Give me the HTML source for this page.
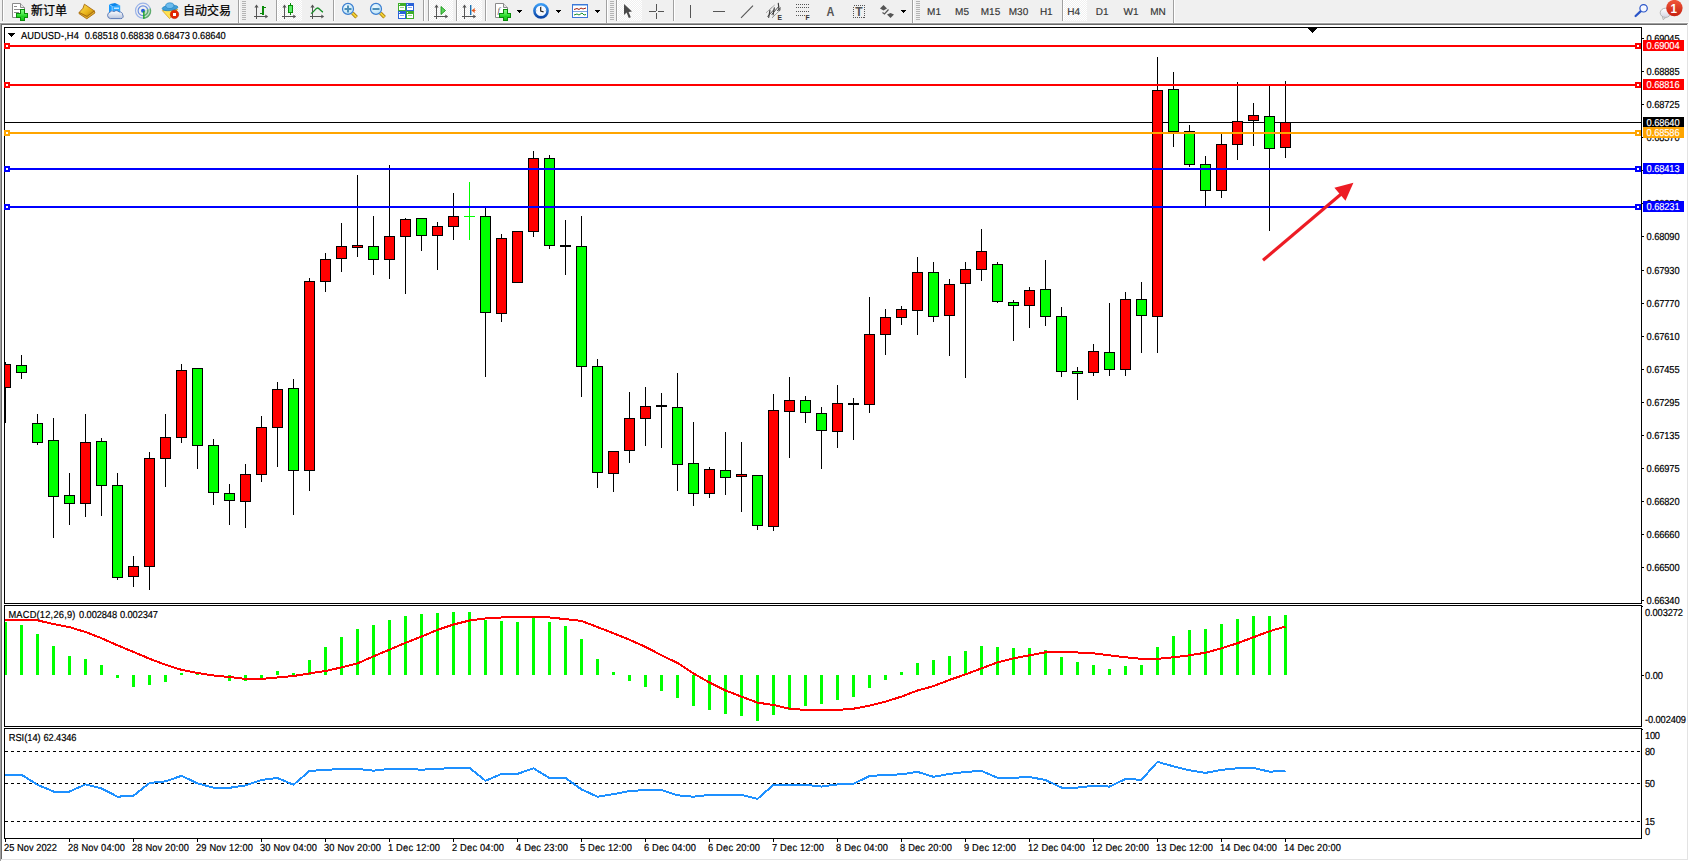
<!DOCTYPE html>
<html><head><meta charset="utf-8"><title>AUDUSD-,H4</title>
<style>html,body{margin:0;padding:0;background:#fff;overflow:hidden}svg{display:block}text{white-space:pre}</style>
</head><body>
<svg width="1689" height="861" viewBox="0 0 1689 861">
<rect x="0" y="0" width="1689" height="861" fill="#fff"/>
<rect x="0" y="0" width="1689" height="22" fill="#f0f0f0"/>
<rect x="0" y="22" width="1689" height="1" fill="#fbfbfb"/>
<rect x="0" y="23" width="1688" height="1" fill="#a0a0a0"/>
<rect x="0" y="24" width="1687" height="1" fill="#696969"/>
<rect x="0" y="24" width="1" height="837" fill="#a0a0a0"/>
<rect x="1" y="25" width="1" height="835" fill="#696969"/>
<rect x="1687" y="24" width="1" height="836" fill="#e3e3e3"/>
<rect x="1" y="859" width="1687" height="1" fill="#e3e3e3"/>
<defs><pattern id="chk" width="2" height="2" patternUnits="userSpaceOnUse"><rect width="2" height="2" fill="#f0f0f0"/><rect width="1" height="1" fill="#fff"/><rect x="1" y="1" width="1" height="1" fill="#fff"/></pattern><linearGradient id="gplus" x1="0" y1="0" x2="0" y2="1"><stop offset="0" stop-color="#7dff7d"/><stop offset="1" stop-color="#0ec20e"/></linearGradient><linearGradient id="gplus2" x1="0" y1="0" x2="0" y2="1"><stop offset="0" stop-color="#4ff04f"/><stop offset="1" stop-color="#22d022"/></linearGradient><linearGradient id="gcloud" x1="0" y1="0" x2="0" y2="1"><stop offset="0" stop-color="#ffffff"/><stop offset="1" stop-color="#b8c4dc"/></linearGradient><linearGradient id="gclk" x1="0" y1="0" x2="0" y2="1"><stop offset="0" stop-color="#3b9cf5"/><stop offset="1" stop-color="#0b47a8"/></linearGradient><linearGradient id="gchat" x1="0" y1="0" x2="0" y2="1"><stop offset="0" stop-color="#ffffff"/><stop offset="1" stop-color="#d4d4e2"/></linearGradient><linearGradient id="ggold" x1="0" y1="0" x2="1" y2="1"><stop offset="0" stop-color="#ffe45c"/><stop offset="0.6" stop-color="#e8b21a"/><stop offset="1" stop-color="#a8740a"/></linearGradient><linearGradient id="gblue" x1="0" y1="0" x2="0" y2="1"><stop offset="0" stop-color="#5db8ff"/><stop offset="1" stop-color="#1565d8"/></linearGradient><linearGradient id="gred" x1="0" y1="0" x2="0" y2="1"><stop offset="0" stop-color="#f0573a"/><stop offset="1" stop-color="#c62010"/></linearGradient><linearGradient id="ggrn" x1="0" y1="0" x2="1" y2="0"><stop offset="0" stop-color="#19c230"/><stop offset="0.5" stop-color="#8dff9a"/><stop offset="1" stop-color="#19c230"/></linearGradient><radialGradient id="glens" cx="0.4" cy="0.35" r="0.7"><stop offset="0" stop-color="#eefaff"/><stop offset="1" stop-color="#b8e0f6"/></radialGradient></defs>
<g id="toolbar">
<g shape-rendering="crispEdges">
<rect x="277" y="0" width="25" height="21" fill="url(#chk)"/>
<rect x="429" y="0" width="24" height="21" fill="url(#chk)"/>
<rect x="457" y="0" width="25" height="21" fill="url(#chk)"/>
<rect x="617" y="0" width="25" height="21" fill="url(#chk)"/>
<rect x="1063" y="0" width="24" height="21" fill="url(#chk)"/>
<rect x="2" y="0" width="1" height="21" fill="#a0a0a0"/>
<rect x="3" y="0" width="1" height="21" fill="#fff"/>
<rect x="276" y="0" width="1" height="21" fill="#a0a0a0"/>
<rect x="277" y="0" width="1" height="21" fill="#fff"/>
<rect x="333" y="0" width="1" height="21" fill="#a0a0a0"/>
<rect x="334" y="0" width="1" height="21" fill="#fff"/>
<rect x="423" y="0" width="1" height="21" fill="#a0a0a0"/>
<rect x="424" y="0" width="1" height="21" fill="#fff"/>
<rect x="428" y="0" width="1" height="21" fill="#a0a0a0"/>
<rect x="429" y="0" width="1" height="21" fill="#fff"/>
<rect x="456" y="0" width="1" height="21" fill="#a0a0a0"/>
<rect x="457" y="0" width="1" height="21" fill="#fff"/>
<rect x="485" y="0" width="1" height="21" fill="#a0a0a0"/>
<rect x="486" y="0" width="1" height="21" fill="#fff"/>
<rect x="616" y="0" width="1" height="21" fill="#a0a0a0"/>
<rect x="617" y="0" width="1" height="21" fill="#fff"/>
<rect x="673" y="0" width="1" height="21" fill="#a0a0a0"/>
<rect x="674" y="0" width="1" height="21" fill="#fff"/>
<rect x="1062" y="0" width="1" height="21" fill="#a0a0a0"/>
<rect x="1063" y="0" width="1" height="21" fill="#fff"/>
<rect x="238" y="0" width="1" height="23" fill="#a0a0a0"/>
<rect x="239" y="0" width="1" height="23" fill="#fff"/>
<rect x="606" y="0" width="1" height="23" fill="#a0a0a0"/>
<rect x="607" y="0" width="1" height="23" fill="#fff"/>
<rect x="912" y="0" width="1" height="23" fill="#a0a0a0"/>
<rect x="913" y="0" width="1" height="23" fill="#fff"/>
<rect x="1173" y="0" width="1" height="23" fill="#a0a0a0"/>
<rect x="1174" y="0" width="1" height="23" fill="#fff"/>
<rect x="242" y="1" width="4" height="1" fill="#b4b4b4"/>
<rect x="242" y="3" width="4" height="1" fill="#b4b4b4"/>
<rect x="242" y="5" width="4" height="1" fill="#b4b4b4"/>
<rect x="242" y="7" width="4" height="1" fill="#b4b4b4"/>
<rect x="242" y="9" width="4" height="1" fill="#b4b4b4"/>
<rect x="242" y="11" width="4" height="1" fill="#b4b4b4"/>
<rect x="242" y="13" width="4" height="1" fill="#b4b4b4"/>
<rect x="242" y="15" width="4" height="1" fill="#b4b4b4"/>
<rect x="242" y="17" width="4" height="1" fill="#b4b4b4"/>
<rect x="242" y="19" width="4" height="1" fill="#b4b4b4"/>
<rect x="610" y="1" width="4" height="1" fill="#b4b4b4"/>
<rect x="610" y="3" width="4" height="1" fill="#b4b4b4"/>
<rect x="610" y="5" width="4" height="1" fill="#b4b4b4"/>
<rect x="610" y="7" width="4" height="1" fill="#b4b4b4"/>
<rect x="610" y="9" width="4" height="1" fill="#b4b4b4"/>
<rect x="610" y="11" width="4" height="1" fill="#b4b4b4"/>
<rect x="610" y="13" width="4" height="1" fill="#b4b4b4"/>
<rect x="610" y="15" width="4" height="1" fill="#b4b4b4"/>
<rect x="610" y="17" width="4" height="1" fill="#b4b4b4"/>
<rect x="610" y="19" width="4" height="1" fill="#b4b4b4"/>
<rect x="916" y="1" width="4" height="1" fill="#b4b4b4"/>
<rect x="916" y="3" width="4" height="1" fill="#b4b4b4"/>
<rect x="916" y="5" width="4" height="1" fill="#b4b4b4"/>
<rect x="916" y="7" width="4" height="1" fill="#b4b4b4"/>
<rect x="916" y="9" width="4" height="1" fill="#b4b4b4"/>
<rect x="916" y="11" width="4" height="1" fill="#b4b4b4"/>
<rect x="916" y="13" width="4" height="1" fill="#b4b4b4"/>
<rect x="916" y="15" width="4" height="1" fill="#b4b4b4"/>
<rect x="916" y="17" width="4" height="1" fill="#b4b4b4"/>
<rect x="916" y="19" width="4" height="1" fill="#b4b4b4"/>
</g>
<path d="M12.5 3.5 h8 l4 4 v10 h-12 Z" fill="#fff" stroke="#8a8a8a" stroke-width="1"/>
<path d="M20.5 3.5 v4 h4" fill="#e8e8e8" stroke="#8a8a8a" stroke-width="1"/>
<g stroke="#8a8a8a" stroke-width="1" shape-rendering="crispEdges"><line x1="14" x2="17" y1="6.5" y2="6.5"/><line x1="14" x2="21" y1="9.5" y2="9.5"/><line x1="14" x2="19" y1="12.5" y2="12.5"/></g>
<g shape-rendering="crispEdges">
<rect x="19.5" y="9" width="5" height="12" fill="#0a8a0a"/>
<rect x="16" y="12.5" width="12" height="5" fill="#0a8a0a"/>
<rect x="20.5" y="10" width="3" height="10" fill="url(#gplus)"/>
<rect x="17" y="13.5" width="10" height="3" fill="url(#gplus2)"/>
</g>
<path d="M79.2 12.4 L87 16.4 L94.3 10.9 L94.9 13 L86.8 18.8 L79 13.6 Z" fill="#dcae2c" stroke="#a8690a" stroke-width="0.9" stroke-linejoin="round"/>
<path d="M84.4 4.2 L94.3 10.9 L87 16.4 L79.2 12.4 L83 8.2 Z" fill="url(#ggold)" stroke="#a8690a" stroke-width="0.9" stroke-linejoin="round"/>
<path d="M109 4.2 L115 3.1 L120.2 5.4 L112.1 6.3 Z" fill="#0d86ea"/>
<path d="M109 4.2 L112.1 6.3 L112.1 13 L109 12.4 Z" fill="#199bff"/>
<path d="M112.1 6.3 L120.2 5.4 L120.2 13 L112.1 13 Z" fill="#2ea8ff"/>
<path d="M109 4.2 L112.1 6.3 L112.1 13" fill="none" stroke="#bfe6ff" stroke-width="0.6"/>
<rect x="114" y="7.6" width="5" height="1.2" fill="#e6f5ff"/>
<path d="M110.3 18.6 a3.3 3.3 0 0 1 -0.4 -6.4 a3 3 0 0 1 4.2 -0.6 a3.4 3.4 0 0 1 5 0.4 a2.9 2.9 0 0 1 3.6 2.9 a2.3 2.3 0 0 1 -2 3.7 Z" fill="url(#gcloud)" stroke="#4f6fb0" stroke-width="0.9"/>
<g fill="none" stroke-width="1.2"><circle cx="143" cy="10.7" r="7.5" stroke="#9bb3e8"/><circle cx="143" cy="10.7" r="4.9" stroke="#6d90e0"/></g>
<path d="M143.2 10.7 L143.2 18.6 A7.9 7.9 0 0 0 150.6 8 Z" fill="#8fd090" fill-opacity="0.45"/>
<g fill="none" stroke="#55a85c" stroke-width="1.2" stroke-opacity="0.85"><path d="M143.2 18.2 A7.5 7.5 0 0 0 150.3 8.6"/><path d="M143.2 15.6 A4.9 4.9 0 0 0 147.8 9.6"/></g>
<circle cx="143" cy="10.7" r="2" fill="#2a5fd8"/>
<rect x="143.2" y="11" width="1.3" height="7.8" fill="#17a51f"/>
<path d="M162.3 10.6 L177.6 9.4 L169.6 18.6 Z" fill="#ffe150" stroke="#d8a010" stroke-width="0.8" stroke-linejoin="round"/>
<g transform="rotate(-6 170 7.6)"><ellipse cx="170" cy="7.9" rx="7.9" ry="2.7" fill="#3f9fd8" stroke="#1f7fbd" stroke-width="0.7"/><ellipse cx="170" cy="5.7" rx="4.1" ry="2.9" fill="#6cbcee" stroke="#1f7fbd" stroke-width="0.6"/></g>
<circle cx="174.5" cy="14.4" r="4.2" fill="#e32400" stroke="#c01800" stroke-width="0.6"/>
<rect x="173" y="13" width="3" height="3" fill="#fff"/>
<g fill="#555" shape-rendering="crispEdges">
<rect x="256" y="6" width="1" height="13" fill="#555"/>
<rect x="254" y="16" width="12" height="1" fill="#555"/>
</g>
<path d="M256.5 4.6 L258.6 7.6 L254.4 7.6 Z" fill="#555"/>
<path d="M268.2 16.5 L265.3 14.4 L265.3 18.6 Z" fill="#555"/>
<g shape-rendering="crispEdges">
<rect x="262" y="6" width="2" height="9" fill="#0a8a0a"/>
<rect x="264" y="7" width="2" height="1" fill="#0a8a0a"/>
<rect x="260" y="13" width="2" height="1" fill="#0a8a0a"/>
</g>
<g fill="#555" shape-rendering="crispEdges">
<rect x="284" y="6" width="1" height="13" fill="#555"/>
<rect x="282" y="16" width="12" height="1" fill="#555"/>
</g>
<path d="M284.5 4.6 L286.6 7.6 L282.4 7.6 Z" fill="#555"/>
<path d="M296.2 16.5 L293.3 14.4 L293.3 18.6 Z" fill="#555"/>
<g shape-rendering="crispEdges">
<rect x="290" y="3" width="1" height="12" fill="#0a8a0a"/>
<rect x="288" y="5" width="5" height="8" fill="#0a8a0a"/>
<rect x="289" y="6" width="3" height="6" fill="#5cf06a"/>
</g>
<g fill="#555" shape-rendering="crispEdges">
<rect x="312" y="6" width="1" height="13" fill="#555"/>
<rect x="310" y="16" width="12" height="1" fill="#555"/>
</g>
<path d="M312.5 4.6 L314.6 7.6 L310.4 7.6 Z" fill="#555"/>
<path d="M324.2 16.5 L321.3 14.4 L321.3 18.6 Z" fill="#555"/>
<path d="M311 13.5 C314 12 315.5 8 317.5 8 C319.5 8 321 11.5 323 12" fill="none" stroke="#1a8f2a" stroke-width="1.3"/>
<path d="M352.4 13 L356.6 17.2" stroke="#a87808" stroke-width="3.6" stroke-linecap="butt"/>
<path d="M352.2 12.8 L356.4 17" stroke="#f2d437" stroke-width="1.8" stroke-linecap="butt"/>
<circle cx="348" cy="8.9" r="5.5" fill="url(#glens)" stroke="#3c7fd0" stroke-width="1.2"/>
<rect x="344.5" y="8" width="7" height="2" fill="#4d8fb8"/>
<rect x="347" y="5.5" width="2" height="7" fill="#4d8fb8"/>
<path d="M380.4 13 L384.6 17.2" stroke="#a87808" stroke-width="3.6" stroke-linecap="butt"/>
<path d="M380.2 12.8 L384.4 17" stroke="#f2d437" stroke-width="1.8" stroke-linecap="butt"/>
<circle cx="376" cy="8.9" r="5.5" fill="url(#glens)" stroke="#3c7fd0" stroke-width="1.2"/>
<rect x="372.5" y="8" width="7" height="2" fill="#4d8fb8"/>
<rect x="398" y="3" width="8" height="8" fill="#3fae2a"/>
<rect x="399" y="4" width="1" height="1" fill="#dfe"/>
<rect x="399" y="6" width="6" height="4" fill="#fff"/>
<rect x="400" y="7" width="4" height="1" fill="#9ad08a"/>
<rect x="400" y="10" width="4" height="1" fill="#3fae2a"/>
<rect x="406" y="3" width="8" height="8" fill="#2a62d8"/>
<rect x="407" y="4" width="1" height="1" fill="#dfe"/>
<rect x="407" y="6" width="6" height="4" fill="#fff"/>
<rect x="408" y="7" width="4" height="1" fill="#8aa8ee"/>
<rect x="408" y="10" width="4" height="1" fill="#2a62d8"/>
<rect x="398" y="11" width="8" height="8" fill="#2a62d8"/>
<rect x="399" y="12" width="1" height="1" fill="#dfe"/>
<rect x="399" y="14" width="6" height="4" fill="#fff"/>
<rect x="400" y="15" width="4" height="1" fill="#8aa8ee"/>
<rect x="400" y="18" width="4" height="1" fill="#2a62d8"/>
<rect x="406" y="11" width="8" height="8" fill="#3fae2a"/>
<rect x="407" y="12" width="1" height="1" fill="#dfe"/>
<rect x="407" y="14" width="6" height="4" fill="#fff"/>
<rect x="408" y="15" width="4" height="1" fill="#9ad08a"/>
<rect x="408" y="18" width="4" height="1" fill="#3fae2a"/>
<g fill="#555" shape-rendering="crispEdges">
<rect x="436" y="6" width="1" height="13" fill="#555"/>
<rect x="434" y="16" width="12" height="1" fill="#555"/>
</g>
<path d="M436.5 4.6 L438.6 7.6 L434.4 7.6 Z" fill="#555"/>
<path d="M448.2 16.5 L445.3 14.4 L445.3 18.6 Z" fill="#555"/>
<path d="M441 6.5 L445.5 10.5 L441 14.5 Z" fill="#5ad35a" stroke="#0a8a0a" stroke-width="0.8"/>
<g fill="#555" shape-rendering="crispEdges">
<rect x="464" y="6" width="1" height="13" fill="#555"/>
<rect x="462" y="16" width="12" height="1" fill="#555"/>
</g>
<path d="M464.5 4.6 L466.6 7.6 L462.4 7.6 Z" fill="#555"/>
<path d="M476.2 16.5 L473.3 14.4 L473.3 18.6 Z" fill="#555"/>
<rect x="470" y="5" width="1.4" height="10" fill="#1a6fb0"/>
<path d="M471.5 10.5 L475 8 L474.5 10 L476.5 10.5 L474.5 11 L475 13 Z" fill="#e8551a"/>
<path d="M495.5 3.5 h8 l4 4 v10 h-12 Z" fill="#fff" stroke="#8a8a8a" stroke-width="1"/>
<path d="M503.5 3.5 v4 h4" fill="#e8e8e8" stroke="#8a8a8a" stroke-width="1"/>
<text x="497.5" y="13" font-size="9" font-style="italic" font-family="Liberation Serif, serif" fill="#555">f</text>
<g shape-rendering="crispEdges">
<rect x="502.5" y="9" width="5" height="12" fill="#0a8a0a"/>
<rect x="499" y="12.5" width="12" height="5" fill="#0a8a0a"/>
<rect x="503.5" y="10" width="3" height="10" fill="url(#gplus)"/>
<rect x="500" y="13.5" width="10" height="3" fill="url(#gplus2)"/>
</g>
<g shape-rendering="crispEdges">
<rect x="517.0" y="10" width="5" height="1" fill="#000"/>
<rect x="518.0" y="11" width="3" height="1" fill="#000"/>
<rect x="519.0" y="12" width="1" height="1" fill="#000"/>
</g>
<circle cx="541" cy="10.8" r="6.6" fill="#f6f9ff" stroke="url(#gclk)" stroke-width="2.6"/>
<g stroke="#9aa" stroke-width="0.6"><line x1="541" y1="6" x2="541" y2="7"/><line x1="541" y1="14.6" x2="541" y2="15.6"/><line x1="536.2" y1="10.8" x2="537.2" y2="10.8"/><line x1="544.8" y1="10.8" x2="545.8" y2="10.8"/></g>
<path d="M540.7 7 V11 L543.6 11.8" fill="none" stroke="#222" stroke-width="1.2"/>
<g shape-rendering="crispEdges">
<rect x="556.0" y="10" width="5" height="1" fill="#000"/>
<rect x="557.0" y="11" width="3" height="1" fill="#000"/>
<rect x="558.0" y="12" width="1" height="1" fill="#000"/>
</g>
<rect x="572" y="4" width="16" height="14" fill="#3d78d8"/>
<rect x="573" y="5" width="14" height="1" fill="#9cc4f0"/>
<rect x="573" y="6" width="14" height="11" fill="#fff"/>
<rect x="573" y="11" width="14" height="1" fill="#7fa6e0"/>
<path d="M574 9.5 L577 8.5 L579 9.5 L581 8 L583 9 L586 8" fill="none" stroke="#a02010" stroke-width="1"/>
<path d="M574 15 L577 14 L579 15 L582 13 L584 15 L586 14.5" fill="none" stroke="#189030" stroke-width="1"/>
<g shape-rendering="crispEdges">
<rect x="595.0" y="10" width="5" height="1" fill="#000"/>
<rect x="596.0" y="11" width="3" height="1" fill="#000"/>
<rect x="597.0" y="12" width="1" height="1" fill="#000"/>
</g>
<path d="M624 4 L624 15 L626.6 12.6 L628.8 18 L630.8 17.2 L628.6 12 L632 11.6 Z" fill="#4a4a4a"/>
<g shape-rendering="crispEdges">
<rect x="656" y="4" width="1" height="7" fill="#555"/>
<rect x="656" y="13" width="1" height="6" fill="#555"/>
<rect x="649" y="11" width="7" height="1" fill="#555"/>
<rect x="658" y="11" width="6" height="1" fill="#555"/>
<rect x="690" y="5" width="1" height="13" fill="#555"/>
<rect x="713" y="11" width="12" height="1" fill="#555"/>
</g>
<line x1="741" y1="17.8" x2="753" y2="5.6" stroke="#555" stroke-width="1.1"/>
<g stroke="#555" stroke-width="0.9" stroke-dasharray="1 0.6"><line x1="766.5" y1="12.4" x2="774.8" y2="4.9"/><line x1="772" y1="17.8" x2="781.2" y2="9.1"/></g>
<g stroke="#3c3c3c" stroke-width="1.15" stroke-linecap="round"><line x1="769.9" y1="10.4" x2="768.7" y2="17.4"/><line x1="774.3" y1="7.8" x2="773.1" y2="14.8"/><line x1="778.3" y1="3.4" x2="779.1" y2="10.4"/></g>
<g stroke="#3c3c3c" stroke-width="0.9"><line x1="767.4" y1="16.6" x2="774.2" y2="9.4"/><line x1="771.6" y1="14.6" x2="778.6" y2="6.6"/><line x1="777" y1="10.8" x2="781" y2="7.6"/></g>
<text x="777.6" y="19.9" font-size="6.8" font-weight="bold" font-family="Liberation Sans, sans-serif" fill="#333">E</text>
<line x1="796" x2="809" y1="4.5" y2="4.5" stroke="#555" stroke-width="1" stroke-dasharray="1 1" shape-rendering="crispEdges"/>
<line x1="796" x2="809" y1="7.5" y2="7.5" stroke="#555" stroke-width="1" stroke-dasharray="1 1" shape-rendering="crispEdges"/>
<line x1="796" x2="809" y1="11.5" y2="11.5" stroke="#555" stroke-width="1" stroke-dasharray="1 1" shape-rendering="crispEdges"/>
<line x1="796" x2="805" y1="15.5" y2="15.5" stroke="#555" stroke-width="1" stroke-dasharray="1 1" shape-rendering="crispEdges"/>
<text x="805.6" y="19.9" font-size="6.8" font-weight="bold" font-family="Liberation Sans, sans-serif" fill="#333">F</text>
<text x="826.6" y="15.9" font-size="12.4" font-weight="bold" font-family="Liberation Sans, sans-serif" fill="#555" transform="translate(826.6 0) scale(0.88 1) translate(-826.6 0)">A</text>
<rect x="853.5" y="5.5" width="11" height="12" fill="none" stroke="#555" stroke-width="1" stroke-dasharray="1 1" shape-rendering="crispEdges"/>
<text x="855.2" y="16" font-size="12" font-weight="bold" font-family="Liberation Sans, sans-serif" fill="#555">T</text>
<path d="M883.5 5 L887 8.5 L883.5 10.5 L880 8.5 Z" fill="#555"/><path d="M890.5 18 L894 14.5 L890.5 13 L887 14.5 Z" fill="#555"/><path d="M882.5 12.5 L884.5 14 L888.5 9.5" fill="none" stroke="#555" stroke-width="1.2"/>
<g shape-rendering="crispEdges">
<rect x="901.0" y="10" width="5" height="1" fill="#000"/>
<rect x="902.0" y="11" width="3" height="1" fill="#000"/>
<rect x="903.0" y="12" width="1" height="1" fill="#000"/>
</g>
<g font-family="Liberation Sans, Arial, sans-serif" font-size="10" fill="#333" stroke="#333" stroke-width="0.15" text-anchor="middle" text-rendering="geometricPrecision">
<text x="934" y="14.9">M1</text>
<text x="962" y="14.9">M5</text>
<text x="990.5" y="14.9">M15</text>
<text x="1018.5" y="14.9">M30</text>
<text x="1046.3" y="14.9">H1</text>
<text x="1073.7" y="14.9">H4</text>
<text x="1102.2" y="14.9">D1</text>
<text x="1131" y="14.9">W1</text>
<text x="1158" y="14.9">MN</text>
</g>
<g font-family="Liberation Sans, Noto Sans CJK SC, sans-serif" font-size="12" fill="#000" stroke="#000" stroke-width="0.25">
<text x="31" y="14.6">新订单</text><text x="183" y="14.6">自动交易</text>
</g>
<path d="M1640.8 11.2 L1635.6 16" stroke="#2a55c8" stroke-width="2.3" stroke-linecap="round"/><circle cx="1643.6" cy="8.3" r="3.7" fill="#f6f8ff" stroke="#2a55c8" stroke-width="1.2"/>
<path d="M1662.3 16.3 L1663.2 19.7 L1666.4 17 Z" fill="#e4e4ee" stroke="#a8a8a8" stroke-width="0.8"/>
<ellipse cx="1665.5" cy="12.8" rx="5.3" ry="4.6" fill="url(#gchat)" stroke="#b0b0b0" stroke-width="0.9"/>
<circle cx="1674.4" cy="8.1" r="8.2" fill="url(#gred)"/>
<text x="1673.8" y="13.2" font-size="13" font-weight="bold" text-anchor="middle" font-family="Liberation Sans, sans-serif" fill="#fff" transform="translate(1673.8 0) scale(0.9 1) translate(-1673.8 0)">1</text>
</g>
<clipPath id="cm"><rect x="5" y="28" width="1636" height="575"/></clipPath>
<g shape-rendering="crispEdges"><g clip-path="url(#cm)">
<rect x="4" y="122" width="1637" height="1" fill="#000"/>
<rect x="5" y="362" width="1" height="61" fill="#000"/>
<rect x="0" y="364" width="11" height="24" fill="#000"/>
<rect x="1" y="365" width="9" height="22" fill="#f00"/>
<rect x="21" y="355" width="1" height="24" fill="#000"/>
<rect x="16" y="365" width="11" height="8" fill="#000"/>
<rect x="17" y="366" width="9" height="6" fill="#0f0"/>
<rect x="37" y="414" width="1" height="31" fill="#000"/>
<rect x="32" y="423" width="11" height="20" fill="#000"/>
<rect x="33" y="424" width="9" height="18" fill="#0f0"/>
<rect x="53" y="418" width="1" height="120" fill="#000"/>
<rect x="48" y="440" width="11" height="57" fill="#000"/>
<rect x="49" y="441" width="9" height="55" fill="#0f0"/>
<rect x="69" y="473" width="1" height="52" fill="#000"/>
<rect x="64" y="495" width="11" height="9" fill="#000"/>
<rect x="65" y="496" width="9" height="7" fill="#0f0"/>
<rect x="85" y="414" width="1" height="103" fill="#000"/>
<rect x="80" y="442" width="11" height="62" fill="#000"/>
<rect x="81" y="443" width="9" height="60" fill="#f00"/>
<rect x="101" y="438" width="1" height="78" fill="#000"/>
<rect x="96" y="441" width="11" height="45" fill="#000"/>
<rect x="97" y="442" width="9" height="43" fill="#0f0"/>
<rect x="117" y="473" width="1" height="107" fill="#000"/>
<rect x="112" y="485" width="11" height="93" fill="#000"/>
<rect x="113" y="486" width="9" height="91" fill="#0f0"/>
<rect x="133" y="556" width="1" height="31" fill="#000"/>
<rect x="128" y="566" width="11" height="11" fill="#000"/>
<rect x="129" y="567" width="9" height="9" fill="#f00"/>
<rect x="149" y="452" width="1" height="138" fill="#000"/>
<rect x="144" y="458" width="11" height="109" fill="#000"/>
<rect x="145" y="459" width="9" height="107" fill="#f00"/>
<rect x="165" y="414" width="1" height="73" fill="#000"/>
<rect x="160" y="437" width="11" height="22" fill="#000"/>
<rect x="161" y="438" width="9" height="20" fill="#f00"/>
<rect x="181" y="364" width="1" height="79" fill="#000"/>
<rect x="176" y="370" width="11" height="68" fill="#000"/>
<rect x="177" y="371" width="9" height="66" fill="#f00"/>
<rect x="197" y="368" width="1" height="101" fill="#000"/>
<rect x="192" y="368" width="11" height="78" fill="#000"/>
<rect x="193" y="369" width="9" height="76" fill="#0f0"/>
<rect x="213" y="439" width="1" height="66" fill="#000"/>
<rect x="208" y="445" width="11" height="48" fill="#000"/>
<rect x="209" y="446" width="9" height="46" fill="#0f0"/>
<rect x="229" y="484" width="1" height="41" fill="#000"/>
<rect x="224" y="493" width="11" height="8" fill="#000"/>
<rect x="225" y="494" width="9" height="6" fill="#0f0"/>
<rect x="245" y="464" width="1" height="64" fill="#000"/>
<rect x="240" y="474" width="11" height="28" fill="#000"/>
<rect x="241" y="475" width="9" height="26" fill="#f00"/>
<rect x="261" y="416" width="1" height="66" fill="#000"/>
<rect x="256" y="427" width="11" height="48" fill="#000"/>
<rect x="257" y="428" width="9" height="46" fill="#f00"/>
<rect x="277" y="382" width="1" height="85" fill="#000"/>
<rect x="272" y="389" width="11" height="39" fill="#000"/>
<rect x="273" y="390" width="9" height="37" fill="#f00"/>
<rect x="293" y="379" width="1" height="136" fill="#000"/>
<rect x="288" y="388" width="11" height="83" fill="#000"/>
<rect x="289" y="389" width="9" height="81" fill="#0f0"/>
<rect x="309" y="278" width="1" height="213" fill="#000"/>
<rect x="304" y="281" width="11" height="190" fill="#000"/>
<rect x="305" y="282" width="9" height="188" fill="#f00"/>
<rect x="325" y="253" width="1" height="39" fill="#000"/>
<rect x="320" y="259" width="11" height="23" fill="#000"/>
<rect x="321" y="260" width="9" height="21" fill="#f00"/>
<rect x="341" y="223" width="1" height="49" fill="#000"/>
<rect x="336" y="246" width="11" height="13" fill="#000"/>
<rect x="337" y="247" width="9" height="11" fill="#f00"/>
<rect x="357" y="175" width="1" height="82" fill="#000"/>
<rect x="352" y="245" width="11" height="3" fill="#000"/>
<rect x="353" y="246" width="9" height="1" fill="#f00"/>
<rect x="373" y="216" width="1" height="59" fill="#000"/>
<rect x="368" y="246" width="11" height="14" fill="#000"/>
<rect x="369" y="247" width="9" height="12" fill="#0f0"/>
<rect x="389" y="165" width="1" height="114" fill="#000"/>
<rect x="384" y="236" width="11" height="24" fill="#000"/>
<rect x="385" y="237" width="9" height="22" fill="#f00"/>
<rect x="405" y="218" width="1" height="76" fill="#000"/>
<rect x="400" y="219" width="11" height="18" fill="#000"/>
<rect x="401" y="220" width="9" height="16" fill="#f00"/>
<rect x="421" y="218" width="1" height="33" fill="#000"/>
<rect x="416" y="218" width="11" height="18" fill="#000"/>
<rect x="417" y="219" width="9" height="16" fill="#0f0"/>
<rect x="437" y="222" width="1" height="48" fill="#000"/>
<rect x="432" y="226" width="11" height="10" fill="#000"/>
<rect x="433" y="227" width="9" height="8" fill="#f00"/>
<rect x="453" y="193" width="1" height="47" fill="#000"/>
<rect x="448" y="216" width="11" height="11" fill="#000"/>
<rect x="449" y="217" width="9" height="9" fill="#f00"/>
<rect x="469" y="182" width="1" height="58" fill="#0f0"/>
<rect x="464" y="216" width="11" height="1" fill="#0f0"/>
<rect x="485" y="207" width="1" height="170" fill="#000"/>
<rect x="480" y="216" width="11" height="97" fill="#000"/>
<rect x="481" y="217" width="9" height="95" fill="#0f0"/>
<rect x="501" y="234" width="1" height="88" fill="#000"/>
<rect x="496" y="238" width="11" height="76" fill="#000"/>
<rect x="497" y="239" width="9" height="74" fill="#f00"/>
<rect x="517" y="231" width="1" height="52" fill="#000"/>
<rect x="512" y="231" width="11" height="52" fill="#000"/>
<rect x="513" y="232" width="9" height="50" fill="#f00"/>
<rect x="533" y="151" width="1" height="86" fill="#000"/>
<rect x="528" y="158" width="11" height="74" fill="#000"/>
<rect x="529" y="159" width="9" height="72" fill="#f00"/>
<rect x="549" y="155" width="1" height="94" fill="#000"/>
<rect x="544" y="158" width="11" height="88" fill="#000"/>
<rect x="545" y="159" width="9" height="86" fill="#0f0"/>
<rect x="565" y="220" width="1" height="55" fill="#000"/>
<rect x="560" y="245" width="11" height="2" fill="#000"/>
<rect x="581" y="216" width="1" height="181" fill="#000"/>
<rect x="576" y="246" width="11" height="121" fill="#000"/>
<rect x="577" y="247" width="9" height="119" fill="#0f0"/>
<rect x="597" y="359" width="1" height="129" fill="#000"/>
<rect x="592" y="366" width="11" height="107" fill="#000"/>
<rect x="593" y="367" width="9" height="105" fill="#0f0"/>
<rect x="613" y="451" width="1" height="41" fill="#000"/>
<rect x="608" y="451" width="11" height="23" fill="#000"/>
<rect x="609" y="452" width="9" height="21" fill="#f00"/>
<rect x="629" y="392" width="1" height="71" fill="#000"/>
<rect x="624" y="418" width="11" height="33" fill="#000"/>
<rect x="625" y="419" width="9" height="31" fill="#f00"/>
<rect x="645" y="387" width="1" height="59" fill="#000"/>
<rect x="640" y="406" width="11" height="13" fill="#000"/>
<rect x="641" y="407" width="9" height="11" fill="#f00"/>
<rect x="661" y="393" width="1" height="55" fill="#000"/>
<rect x="656" y="405" width="11" height="2" fill="#000"/>
<rect x="677" y="373" width="1" height="118" fill="#000"/>
<rect x="672" y="407" width="11" height="58" fill="#000"/>
<rect x="673" y="408" width="9" height="56" fill="#0f0"/>
<rect x="693" y="422" width="1" height="84" fill="#000"/>
<rect x="688" y="463" width="11" height="31" fill="#000"/>
<rect x="689" y="464" width="9" height="29" fill="#0f0"/>
<rect x="709" y="467" width="1" height="31" fill="#000"/>
<rect x="704" y="469" width="11" height="25" fill="#000"/>
<rect x="705" y="470" width="9" height="23" fill="#f00"/>
<rect x="725" y="432" width="1" height="63" fill="#000"/>
<rect x="720" y="470" width="11" height="8" fill="#000"/>
<rect x="721" y="471" width="9" height="6" fill="#0f0"/>
<rect x="741" y="442" width="1" height="70" fill="#000"/>
<rect x="736" y="474" width="11" height="3" fill="#000"/>
<rect x="737" y="475" width="9" height="1" fill="#f00"/>
<rect x="757" y="475" width="1" height="55" fill="#000"/>
<rect x="752" y="475" width="11" height="51" fill="#000"/>
<rect x="753" y="476" width="9" height="49" fill="#0f0"/>
<rect x="773" y="394" width="1" height="137" fill="#000"/>
<rect x="768" y="410" width="11" height="117" fill="#000"/>
<rect x="769" y="411" width="9" height="115" fill="#f00"/>
<rect x="789" y="377" width="1" height="81" fill="#000"/>
<rect x="784" y="400" width="11" height="12" fill="#000"/>
<rect x="785" y="401" width="9" height="10" fill="#f00"/>
<rect x="805" y="396" width="1" height="27" fill="#000"/>
<rect x="800" y="400" width="11" height="13" fill="#000"/>
<rect x="801" y="401" width="9" height="11" fill="#0f0"/>
<rect x="821" y="407" width="1" height="62" fill="#000"/>
<rect x="816" y="413" width="11" height="18" fill="#000"/>
<rect x="817" y="414" width="9" height="16" fill="#0f0"/>
<rect x="837" y="385" width="1" height="63" fill="#000"/>
<rect x="832" y="403" width="11" height="29" fill="#000"/>
<rect x="833" y="404" width="9" height="27" fill="#f00"/>
<rect x="853" y="398" width="1" height="42" fill="#000"/>
<rect x="848" y="403" width="11" height="2" fill="#000"/>
<rect x="869" y="297" width="1" height="116" fill="#000"/>
<rect x="864" y="334" width="11" height="71" fill="#000"/>
<rect x="865" y="335" width="9" height="69" fill="#f00"/>
<rect x="885" y="309" width="1" height="46" fill="#000"/>
<rect x="880" y="317" width="11" height="18" fill="#000"/>
<rect x="881" y="318" width="9" height="16" fill="#f00"/>
<rect x="901" y="306" width="1" height="19" fill="#000"/>
<rect x="896" y="309" width="11" height="9" fill="#000"/>
<rect x="897" y="310" width="9" height="7" fill="#f00"/>
<rect x="917" y="257" width="1" height="78" fill="#000"/>
<rect x="912" y="272" width="11" height="39" fill="#000"/>
<rect x="913" y="273" width="9" height="37" fill="#f00"/>
<rect x="933" y="262" width="1" height="60" fill="#000"/>
<rect x="928" y="272" width="11" height="45" fill="#000"/>
<rect x="929" y="273" width="9" height="43" fill="#0f0"/>
<rect x="949" y="279" width="1" height="77" fill="#000"/>
<rect x="944" y="284" width="11" height="32" fill="#000"/>
<rect x="945" y="285" width="9" height="30" fill="#f00"/>
<rect x="965" y="262" width="1" height="116" fill="#000"/>
<rect x="960" y="269" width="11" height="15" fill="#000"/>
<rect x="961" y="270" width="9" height="13" fill="#f00"/>
<rect x="981" y="229" width="1" height="52" fill="#000"/>
<rect x="976" y="251" width="11" height="19" fill="#000"/>
<rect x="977" y="252" width="9" height="17" fill="#f00"/>
<rect x="997" y="262" width="1" height="41" fill="#000"/>
<rect x="992" y="264" width="11" height="38" fill="#000"/>
<rect x="993" y="265" width="9" height="36" fill="#0f0"/>
<rect x="1013" y="300" width="1" height="41" fill="#000"/>
<rect x="1008" y="302" width="11" height="4" fill="#000"/>
<rect x="1009" y="303" width="9" height="2" fill="#0f0"/>
<rect x="1029" y="287" width="1" height="41" fill="#000"/>
<rect x="1024" y="290" width="11" height="16" fill="#000"/>
<rect x="1025" y="291" width="9" height="14" fill="#f00"/>
<rect x="1045" y="260" width="1" height="66" fill="#000"/>
<rect x="1040" y="289" width="11" height="28" fill="#000"/>
<rect x="1041" y="290" width="9" height="26" fill="#0f0"/>
<rect x="1061" y="307" width="1" height="70" fill="#000"/>
<rect x="1056" y="316" width="11" height="56" fill="#000"/>
<rect x="1057" y="317" width="9" height="54" fill="#0f0"/>
<rect x="1077" y="367" width="1" height="33" fill="#000"/>
<rect x="1072" y="371" width="11" height="3" fill="#000"/>
<rect x="1073" y="372" width="9" height="1" fill="#0f0"/>
<rect x="1093" y="344" width="1" height="32" fill="#000"/>
<rect x="1088" y="351" width="11" height="22" fill="#000"/>
<rect x="1089" y="352" width="9" height="20" fill="#f00"/>
<rect x="1109" y="303" width="1" height="73" fill="#000"/>
<rect x="1104" y="352" width="11" height="18" fill="#000"/>
<rect x="1105" y="353" width="9" height="16" fill="#0f0"/>
<rect x="1125" y="292" width="1" height="84" fill="#000"/>
<rect x="1120" y="299" width="11" height="71" fill="#000"/>
<rect x="1121" y="300" width="9" height="69" fill="#f00"/>
<rect x="1141" y="282" width="1" height="71" fill="#000"/>
<rect x="1136" y="299" width="11" height="17" fill="#000"/>
<rect x="1137" y="300" width="9" height="15" fill="#0f0"/>
<rect x="1157" y="57" width="1" height="296" fill="#000"/>
<rect x="1152" y="90" width="11" height="227" fill="#000"/>
<rect x="1153" y="91" width="9" height="225" fill="#f00"/>
<rect x="1173" y="72" width="1" height="75" fill="#000"/>
<rect x="1168" y="89" width="11" height="43" fill="#000"/>
<rect x="1169" y="90" width="9" height="41" fill="#0f0"/>
<rect x="1189" y="125" width="1" height="42" fill="#000"/>
<rect x="1184" y="131" width="11" height="34" fill="#000"/>
<rect x="1185" y="132" width="9" height="32" fill="#0f0"/>
<rect x="1205" y="156" width="1" height="50" fill="#000"/>
<rect x="1200" y="164" width="11" height="27" fill="#000"/>
<rect x="1201" y="165" width="9" height="25" fill="#0f0"/>
<rect x="1221" y="134" width="1" height="64" fill="#000"/>
<rect x="1216" y="144" width="11" height="47" fill="#000"/>
<rect x="1217" y="145" width="9" height="45" fill="#f00"/>
<rect x="1237" y="82" width="1" height="78" fill="#000"/>
<rect x="1232" y="121" width="11" height="24" fill="#000"/>
<rect x="1233" y="122" width="9" height="22" fill="#f00"/>
<rect x="1253" y="103" width="1" height="43" fill="#000"/>
<rect x="1248" y="115" width="11" height="6" fill="#000"/>
<rect x="1249" y="116" width="9" height="4" fill="#f00"/>
<rect x="1269" y="85" width="1" height="146" fill="#000"/>
<rect x="1264" y="116" width="11" height="33" fill="#000"/>
<rect x="1265" y="117" width="9" height="31" fill="#0f0"/>
<rect x="1285" y="81" width="1" height="77" fill="#000"/>
<rect x="1280" y="122" width="11" height="26" fill="#000"/>
<rect x="1281" y="123" width="9" height="24" fill="#f00"/>
</g>
<rect x="4" y="45" width="1637" height="2" fill="#f00"/>
<rect x="4" y="84" width="1637" height="2" fill="#f00"/>
<rect x="4" y="132" width="1637" height="2" fill="#ffa500"/>
<rect x="4" y="168" width="1637" height="2" fill="#00f"/>
<rect x="4" y="206" width="1637" height="2" fill="#00f"/>
</g>
<g fill="#ed1c24" stroke="none"><path d="M1262 259.1 L1264 261.5 L1342.2 195.2 L1340.2 192.8 Z"/><path d="M1353.4 182.8 L1334.4 187.7 L1345.5 200.8 Z"/></g>
<g shape-rendering="crispEdges">
<rect x="4" y="622" width="3" height="53" fill="#0f0"/>
<rect x="20" y="625" width="3" height="50" fill="#0f0"/>
<rect x="36" y="634" width="3" height="41" fill="#0f0"/>
<rect x="52" y="646" width="3" height="29" fill="#0f0"/>
<rect x="68" y="656" width="3" height="19" fill="#0f0"/>
<rect x="84" y="659" width="3" height="16" fill="#0f0"/>
<rect x="100" y="665" width="3" height="10" fill="#0f0"/>
<rect x="116" y="675" width="3" height="3" fill="#0f0"/>
<rect x="132" y="675" width="3" height="12" fill="#0f0"/>
<rect x="148" y="675" width="3" height="10" fill="#0f0"/>
<rect x="164" y="675" width="3" height="7" fill="#0f0"/>
<rect x="180" y="673" width="3" height="2" fill="#0f0"/>
<rect x="196" y="672" width="3" height="3" fill="#0f0"/>
<rect x="212" y="675" width="3" height="1" fill="#0f0"/>
<rect x="228" y="675" width="3" height="6" fill="#0f0"/>
<rect x="244" y="675" width="3" height="6" fill="#0f0"/>
<rect x="260" y="675" width="3" height="3" fill="#0f0"/>
<rect x="276" y="671" width="3" height="4" fill="#0f0"/>
<rect x="292" y="673" width="3" height="2" fill="#0f0"/>
<rect x="308" y="660" width="3" height="15" fill="#0f0"/>
<rect x="324" y="647" width="3" height="28" fill="#0f0"/>
<rect x="340" y="637" width="3" height="38" fill="#0f0"/>
<rect x="356" y="629" width="3" height="46" fill="#0f0"/>
<rect x="372" y="625" width="3" height="50" fill="#0f0"/>
<rect x="388" y="620" width="3" height="55" fill="#0f0"/>
<rect x="404" y="616" width="3" height="59" fill="#0f0"/>
<rect x="420" y="614" width="3" height="61" fill="#0f0"/>
<rect x="436" y="613" width="3" height="62" fill="#0f0"/>
<rect x="452" y="612" width="3" height="63" fill="#0f0"/>
<rect x="468" y="612" width="3" height="63" fill="#0f0"/>
<rect x="484" y="620" width="3" height="55" fill="#0f0"/>
<rect x="500" y="621" width="3" height="54" fill="#0f0"/>
<rect x="516" y="622" width="3" height="53" fill="#0f0"/>
<rect x="532" y="618" width="3" height="57" fill="#0f0"/>
<rect x="548" y="622" width="3" height="53" fill="#0f0"/>
<rect x="564" y="626" width="3" height="49" fill="#0f0"/>
<rect x="580" y="639" width="3" height="36" fill="#0f0"/>
<rect x="596" y="659" width="3" height="16" fill="#0f0"/>
<rect x="612" y="672" width="3" height="3" fill="#0f0"/>
<rect x="628" y="675" width="3" height="6" fill="#0f0"/>
<rect x="644" y="675" width="3" height="12" fill="#0f0"/>
<rect x="660" y="675" width="3" height="16" fill="#0f0"/>
<rect x="676" y="675" width="3" height="23" fill="#0f0"/>
<rect x="692" y="675" width="3" height="31" fill="#0f0"/>
<rect x="708" y="675" width="3" height="35" fill="#0f0"/>
<rect x="724" y="675" width="3" height="39" fill="#0f0"/>
<rect x="740" y="675" width="3" height="41" fill="#0f0"/>
<rect x="756" y="675" width="3" height="46" fill="#0f0"/>
<rect x="772" y="675" width="3" height="40" fill="#0f0"/>
<rect x="788" y="675" width="3" height="35" fill="#0f0"/>
<rect x="804" y="675" width="3" height="31" fill="#0f0"/>
<rect x="820" y="675" width="3" height="29" fill="#0f0"/>
<rect x="836" y="675" width="3" height="25" fill="#0f0"/>
<rect x="852" y="675" width="3" height="22" fill="#0f0"/>
<rect x="868" y="675" width="3" height="13" fill="#0f0"/>
<rect x="884" y="675" width="3" height="5" fill="#0f0"/>
<rect x="900" y="672" width="3" height="3" fill="#0f0"/>
<rect x="916" y="663" width="3" height="12" fill="#0f0"/>
<rect x="932" y="660" width="3" height="15" fill="#0f0"/>
<rect x="948" y="656" width="3" height="19" fill="#0f0"/>
<rect x="964" y="651" width="3" height="24" fill="#0f0"/>
<rect x="980" y="646" width="3" height="29" fill="#0f0"/>
<rect x="996" y="647" width="3" height="28" fill="#0f0"/>
<rect x="1012" y="648" width="3" height="27" fill="#0f0"/>
<rect x="1028" y="648" width="3" height="27" fill="#0f0"/>
<rect x="1044" y="650" width="3" height="25" fill="#0f0"/>
<rect x="1060" y="657" width="3" height="18" fill="#0f0"/>
<rect x="1076" y="662" width="3" height="13" fill="#0f0"/>
<rect x="1092" y="665" width="3" height="10" fill="#0f0"/>
<rect x="1108" y="669" width="3" height="6" fill="#0f0"/>
<rect x="1124" y="666" width="3" height="9" fill="#0f0"/>
<rect x="1140" y="665" width="3" height="10" fill="#0f0"/>
<rect x="1156" y="647" width="3" height="28" fill="#0f0"/>
<rect x="1172" y="636" width="3" height="39" fill="#0f0"/>
<rect x="1188" y="630" width="3" height="45" fill="#0f0"/>
<rect x="1204" y="629" width="3" height="46" fill="#0f0"/>
<rect x="1220" y="624" width="3" height="51" fill="#0f0"/>
<rect x="1236" y="619" width="3" height="56" fill="#0f0"/>
<rect x="1252" y="616" width="3" height="59" fill="#0f0"/>
<rect x="1268" y="616" width="3" height="59" fill="#0f0"/>
<rect x="1284" y="615" width="3" height="60" fill="#0f0"/>
<polyline points="4.5,620.1 5.5,620.1 21.5,620.1 37.5,620.3 53.5,624.1 69.5,627.1 85.5,632.0 101.5,638.2 117.5,645.3 133.5,651.9 149.5,658.7 165.5,664.8 181.5,669.8 197.5,673.0 213.5,675.5 229.5,677.0 245.5,678.9 261.5,678.9 277.5,677.5 293.5,676.0 309.5,673.4 325.5,671.0 341.5,667.4 357.5,663.4 373.5,656.3 389.5,649.7 405.5,642.8 421.5,636.6 437.5,629.8 453.5,624.5 469.5,620.5 485.5,618.5 501.5,617.5 517.5,617.1 533.5,617.1 549.5,617.5 565.5,619.1 581.5,620.9 597.5,627.1 613.5,633.2 629.5,639.8 645.5,646.9 661.5,655.3 677.5,663.0 693.5,673.4 709.5,682.5 725.5,690.5 741.5,696.6 757.5,702.6 773.5,705.0 789.5,708.7 805.5,709.9 821.5,709.9 837.5,709.9 853.5,708.7 869.5,705.6 885.5,701.6 901.5,696.6 917.5,690.5 933.5,686.1 949.5,679.9 965.5,674.4 981.5,668.4 997.5,662.4 1013.5,658.3 1029.5,655.3 1045.5,652.3 1061.5,651.9 1077.5,652.5 1093.5,653.3 1109.5,655.3 1125.5,657.3 1141.5,658.9 1157.5,658.9 1173.5,657.3 1189.5,655.3 1205.5,652.7 1221.5,648.3 1237.5,643.2 1253.5,637.2 1269.5,631.2 1285.5,626.5" fill="none" stroke="#f00" stroke-width="2"/>
<line x1="5" x2="1641" y1="751.5" y2="751.5" stroke="#000" stroke-width="1" stroke-dasharray="3 3"/>
<line x1="5" x2="1641" y1="783.5" y2="783.5" stroke="#000" stroke-width="1" stroke-dasharray="3 3"/>
<line x1="5" x2="1641" y1="821.5" y2="821.5" stroke="#000" stroke-width="1" stroke-dasharray="3 3"/>
<polyline points="4.5,774.8 5.5,774.8 21.5,774.8 37.5,784.8 53.5,791.5 69.5,791.5 85.5,784.4 101.5,788.4 117.5,796.7 133.5,795.7 149.5,783.0 165.5,781.4 181.5,775.8 197.5,783.4 213.5,787.6 229.5,787.8 245.5,785.4 261.5,780.0 277.5,778.0 293.5,784.8 309.5,770.9 325.5,769.9 341.5,768.9 357.5,768.9 373.5,770.7 389.5,768.9 405.5,768.9 421.5,769.7 437.5,768.9 453.5,767.9 469.5,767.9 485.5,780.8 501.5,773.9 517.5,773.9 533.5,768.3 549.5,778.0 565.5,778.0 581.5,789.4 597.5,796.7 613.5,794.1 629.5,791.1 645.5,790.0 661.5,790.0 677.5,795.3 693.5,796.7 709.5,794.9 725.5,794.9 741.5,794.9 757.5,798.9 773.5,784.8 789.5,784.8 805.5,784.8 821.5,786.6 837.5,784.4 853.5,783.8 869.5,776.0 885.5,775.0 901.5,774.3 917.5,771.9 933.5,776.8 949.5,773.9 965.5,771.9 981.5,770.9 997.5,777.8 1013.5,777.8 1029.5,777.0 1045.5,780.0 1061.5,787.6 1077.5,787.6 1093.5,785.8 1109.5,786.6 1125.5,779.0 1141.5,779.8 1157.5,761.9 1173.5,766.3 1189.5,770.3 1205.5,772.9 1221.5,769.9 1237.5,768.3 1253.5,767.9 1269.5,771.7 1285.5,770.9" fill="none" stroke="#1e90ff" stroke-width="2"/>
<rect x="4" y="27" width="1638" height="1" fill="#000"/>
<rect x="4" y="603" width="1638" height="1" fill="#000"/>
<rect x="4" y="605" width="1638" height="1" fill="#000"/>
<rect x="4" y="726" width="1638" height="1" fill="#000"/>
<rect x="4" y="728" width="1638" height="1" fill="#000"/>
<rect x="4" y="838" width="1638" height="1" fill="#000"/>
<rect x="4" y="27" width="1" height="576" fill="#000"/>
<rect x="1641" y="27" width="1" height="576" fill="#000"/>
<rect x="4" y="605" width="1" height="121" fill="#000"/>
<rect x="1641" y="605" width="1" height="121" fill="#000"/>
<rect x="4" y="728" width="1" height="110" fill="#000"/>
<rect x="1641" y="728" width="1" height="110" fill="#000"/>
<rect x="4" y="43" width="6" height="6" fill="#f00"/>
<rect x="6" y="45" width="2" height="2" fill="#fff"/>
<rect x="1635" y="43" width="6" height="6" fill="#f00"/>
<rect x="1637" y="45" width="2" height="2" fill="#fff"/>
<rect x="4" y="82" width="6" height="6" fill="#f00"/>
<rect x="6" y="84" width="2" height="2" fill="#fff"/>
<rect x="1635" y="82" width="6" height="6" fill="#f00"/>
<rect x="1637" y="84" width="2" height="2" fill="#fff"/>
<rect x="4" y="130" width="6" height="6" fill="#ffa500"/>
<rect x="6" y="132" width="2" height="2" fill="#fff"/>
<rect x="1635" y="130" width="6" height="6" fill="#ffa500"/>
<rect x="1637" y="132" width="2" height="2" fill="#fff"/>
<rect x="4" y="166" width="6" height="6" fill="#00f"/>
<rect x="6" y="168" width="2" height="2" fill="#fff"/>
<rect x="1635" y="166" width="6" height="6" fill="#00f"/>
<rect x="1637" y="168" width="2" height="2" fill="#fff"/>
<rect x="4" y="204" width="6" height="6" fill="#00f"/>
<rect x="6" y="206" width="2" height="2" fill="#fff"/>
<rect x="1635" y="204" width="6" height="6" fill="#00f"/>
<rect x="1637" y="206" width="2" height="2" fill="#fff"/>
<rect x="1308" y="28" width="9" height="1" fill="#000"/>
<rect x="1309" y="29" width="7" height="1" fill="#000"/>
<rect x="1310" y="30" width="5" height="1" fill="#000"/>
<rect x="1311" y="31" width="3" height="1" fill="#000"/>
<rect x="1312" y="32" width="1" height="1" fill="#000"/>
<rect x="8" y="33" width="7" height="1" fill="#000"/>
<rect x="9" y="34" width="5" height="1" fill="#000"/>
<rect x="10" y="35" width="3" height="1" fill="#000"/>
<rect x="11" y="36" width="1" height="1" fill="#000"/>
<rect x="1642" y="38" width="2" height="1" fill="#000"/>
<rect x="1642" y="71" width="2" height="1" fill="#000"/>
<rect x="1642" y="104" width="2" height="1" fill="#000"/>
<rect x="1642" y="137" width="2" height="1" fill="#000"/>
<rect x="1642" y="170" width="2" height="1" fill="#000"/>
<rect x="1642" y="203" width="2" height="1" fill="#000"/>
<rect x="1642" y="236" width="2" height="1" fill="#000"/>
<rect x="1642" y="270" width="2" height="1" fill="#000"/>
<rect x="1642" y="303" width="2" height="1" fill="#000"/>
<rect x="1642" y="336" width="2" height="1" fill="#000"/>
<rect x="1642" y="369" width="2" height="1" fill="#000"/>
<rect x="1642" y="402" width="2" height="1" fill="#000"/>
<rect x="1642" y="435" width="2" height="1" fill="#000"/>
<rect x="1642" y="468" width="2" height="1" fill="#000"/>
<rect x="1642" y="501" width="2" height="1" fill="#000"/>
<rect x="1642" y="534" width="2" height="1" fill="#000"/>
<rect x="1642" y="567" width="2" height="1" fill="#000"/>
<rect x="1642" y="600" width="2" height="1" fill="#000"/>
<rect x="1642" y="606" width="1" height="1" fill="#000"/>
<rect x="1642" y="675" width="2" height="1" fill="#000"/>
<rect x="1642" y="729" width="1" height="1" fill="#000"/>
<rect x="5" y="839" width="1" height="3" fill="#000"/>
<rect x="69" y="839" width="1" height="3" fill="#000"/>
<rect x="133" y="839" width="1" height="3" fill="#000"/>
<rect x="197" y="839" width="1" height="3" fill="#000"/>
<rect x="261" y="839" width="1" height="3" fill="#000"/>
<rect x="325" y="839" width="1" height="3" fill="#000"/>
<rect x="389" y="839" width="1" height="3" fill="#000"/>
<rect x="453" y="839" width="1" height="3" fill="#000"/>
<rect x="517" y="839" width="1" height="3" fill="#000"/>
<rect x="581" y="839" width="1" height="3" fill="#000"/>
<rect x="645" y="839" width="1" height="3" fill="#000"/>
<rect x="709" y="839" width="1" height="3" fill="#000"/>
<rect x="773" y="839" width="1" height="3" fill="#000"/>
<rect x="837" y="839" width="1" height="3" fill="#000"/>
<rect x="901" y="839" width="1" height="3" fill="#000"/>
<rect x="965" y="839" width="1" height="3" fill="#000"/>
<rect x="1029" y="839" width="1" height="3" fill="#000"/>
<rect x="1093" y="839" width="1" height="3" fill="#000"/>
<rect x="1157" y="839" width="1" height="3" fill="#000"/>
<rect x="1221" y="839" width="1" height="3" fill="#000"/>
<rect x="1285" y="839" width="1" height="3" fill="#000"/>
</g>
<g font-family="Liberation Sans, Arial, sans-serif" font-size="10.1" text-rendering="geometricPrecision" transform="scale(0.92 1)" stroke="#000" stroke-width="0.2">
<text x="22.72" y="39.0" fill="#000" textLength="63.04" lengthAdjust="spacing">AUDUSD-,H4</text>
<text x="92.07" y="39.0" fill="#000" textLength="153.26" lengthAdjust="spacing">0.68518 0.68838 0.68473 0.68640</text>
<text x="9.13" y="618.0" fill="#000" textLength="72.83" lengthAdjust="spacing">MACD(12,26,9)</text>
<text x="85.98" y="618.0" fill="#000" textLength="41.30" lengthAdjust="spacing">0.002848</text>
<text x="130.43" y="618.0" fill="#000" textLength="41.30" lengthAdjust="spacing">0.002347</text>
<text x="9.46" y="741.0" fill="#000" textLength="34.78" lengthAdjust="spacing">RSI(14)</text>
<text x="47.28" y="741.0" fill="#000" textLength="35.87" lengthAdjust="spacing">62.4346</text>
<text x="1789.78" y="42.0" fill="#000" textLength="35.87" lengthAdjust="spacing">0.69045</text>
<text x="1789.78" y="75.0" fill="#000" textLength="35.87" lengthAdjust="spacing">0.68885</text>
<text x="1789.78" y="108.0" fill="#000" textLength="35.87" lengthAdjust="spacing">0.68725</text>
<text x="1789.78" y="141.0" fill="#000" textLength="35.87" lengthAdjust="spacing">0.68570</text>
<text x="1789.78" y="174.0" fill="#000" textLength="35.87" lengthAdjust="spacing">0.68410</text>
<text x="1789.78" y="207.0" fill="#000" textLength="35.87" lengthAdjust="spacing">0.68250</text>
<text x="1789.78" y="240.0" fill="#000" textLength="35.87" lengthAdjust="spacing">0.68090</text>
<text x="1789.78" y="274.0" fill="#000" textLength="35.87" lengthAdjust="spacing">0.67930</text>
<text x="1789.78" y="307.0" fill="#000" textLength="35.87" lengthAdjust="spacing">0.67770</text>
<text x="1789.78" y="340.0" fill="#000" textLength="35.87" lengthAdjust="spacing">0.67610</text>
<text x="1789.78" y="373.0" fill="#000" textLength="35.87" lengthAdjust="spacing">0.67455</text>
<text x="1789.78" y="406.0" fill="#000" textLength="35.87" lengthAdjust="spacing">0.67295</text>
<text x="1789.78" y="439.0" fill="#000" textLength="35.87" lengthAdjust="spacing">0.67135</text>
<text x="1789.78" y="472.0" fill="#000" textLength="35.87" lengthAdjust="spacing">0.66975</text>
<text x="1789.78" y="505.0" fill="#000" textLength="35.87" lengthAdjust="spacing">0.66820</text>
<text x="1789.78" y="538.0" fill="#000" textLength="35.87" lengthAdjust="spacing">0.66660</text>
<text x="1789.78" y="571.0" fill="#000" textLength="35.87" lengthAdjust="spacing">0.66500</text>
<text x="1789.78" y="604.0" fill="#000" textLength="35.87" lengthAdjust="spacing">0.66340</text>
<text x="1788.04" y="616.0" fill="#000" textLength="41.30" lengthAdjust="spacing">0.003272</text>
<text x="1788.04" y="678.8" fill="#000" textLength="19.57" lengthAdjust="spacing">0.00</text>
<text x="1788.04" y="723.0" fill="#000" textLength="44.57" lengthAdjust="spacing">-0.002409</text>
<text x="1788.04" y="739.2" fill="#000" textLength="16.30" lengthAdjust="spacing">100</text>
<text x="1788.04" y="755.2" fill="#000" textLength="10.87" lengthAdjust="spacing">80</text>
<text x="1788.04" y="787.2" fill="#000" textLength="10.87" lengthAdjust="spacing">50</text>
<text x="1788.04" y="825.2" fill="#000" textLength="10.87" lengthAdjust="spacing">15</text>
<text x="1788.04" y="835.0" fill="#000" textLength="5.43" lengthAdjust="spacing">0</text>
<text x="4.35" y="851.0" fill="#000" textLength="57.61" lengthAdjust="spacing">25 Nov 2022</text>
<text x="73.91" y="851.0" fill="#000" textLength="61.96" lengthAdjust="spacing">28 Nov 04:00</text>
<text x="143.48" y="851.0" fill="#000" textLength="61.96" lengthAdjust="spacing">28 Nov 20:00</text>
<text x="213.04" y="851.0" fill="#000" textLength="61.96" lengthAdjust="spacing">29 Nov 12:00</text>
<text x="282.61" y="851.0" fill="#000" textLength="61.96" lengthAdjust="spacing">30 Nov 04:00</text>
<text x="352.17" y="851.0" fill="#000" textLength="61.96" lengthAdjust="spacing">30 Nov 20:00</text>
<text x="421.74" y="851.0" fill="#000" textLength="56.52" lengthAdjust="spacing">1 Dec 12:00</text>
<text x="491.30" y="851.0" fill="#000" textLength="56.52" lengthAdjust="spacing">2 Dec 04:00</text>
<text x="560.87" y="851.0" fill="#000" textLength="56.52" lengthAdjust="spacing">4 Dec 23:00</text>
<text x="630.43" y="851.0" fill="#000" textLength="56.52" lengthAdjust="spacing">5 Dec 12:00</text>
<text x="700.00" y="851.0" fill="#000" textLength="56.52" lengthAdjust="spacing">6 Dec 04:00</text>
<text x="769.57" y="851.0" fill="#000" textLength="56.52" lengthAdjust="spacing">6 Dec 20:00</text>
<text x="839.13" y="851.0" fill="#000" textLength="56.52" lengthAdjust="spacing">7 Dec 12:00</text>
<text x="908.70" y="851.0" fill="#000" textLength="56.52" lengthAdjust="spacing">8 Dec 04:00</text>
<text x="978.26" y="851.0" fill="#000" textLength="56.52" lengthAdjust="spacing">8 Dec 20:00</text>
<text x="1047.83" y="851.0" fill="#000" textLength="56.52" lengthAdjust="spacing">9 Dec 12:00</text>
<text x="1117.39" y="851.0" fill="#000" textLength="61.96" lengthAdjust="spacing">12 Dec 04:00</text>
<text x="1186.96" y="851.0" fill="#000" textLength="61.96" lengthAdjust="spacing">12 Dec 20:00</text>
<text x="1256.52" y="851.0" fill="#000" textLength="61.96" lengthAdjust="spacing">13 Dec 12:00</text>
<text x="1326.09" y="851.0" fill="#000" textLength="61.96" lengthAdjust="spacing">14 Dec 04:00</text>
<text x="1395.65" y="851.0" fill="#000" textLength="61.96" lengthAdjust="spacing">14 Dec 20:00</text>
</g>
<g shape-rendering="crispEdges">
<rect x="1643" y="40" width="41" height="11" fill="#f00"/>
<rect x="1643" y="79" width="41" height="11" fill="#f00"/>
<rect x="1643" y="117" width="41" height="11" fill="#000"/>
<rect x="1643" y="127" width="41" height="11" fill="#ffa500"/>
<rect x="1643" y="163" width="41" height="11" fill="#00f"/>
<rect x="1643" y="201" width="41" height="11" fill="#00f"/>
</g>
<g font-family="Liberation Sans, Arial, sans-serif" font-size="10.1" text-rendering="geometricPrecision" transform="scale(0.92 1)" stroke="#fff" stroke-width="0.15">
<text x="1789.78" y="49.0" fill="#fff" textLength="35.87" lengthAdjust="spacing">0.69004</text>
<text x="1789.78" y="88.0" fill="#fff" textLength="35.87" lengthAdjust="spacing">0.68816</text>
<text x="1789.78" y="126.0" fill="#fff" textLength="35.87" lengthAdjust="spacing">0.68640</text>
<text x="1789.78" y="136.0" fill="#fff" textLength="35.87" lengthAdjust="spacing">0.68586</text>
<text x="1789.78" y="172.0" fill="#fff" textLength="35.87" lengthAdjust="spacing">0.68413</text>
<text x="1789.78" y="210.0" fill="#fff" textLength="35.87" lengthAdjust="spacing">0.68231</text>
</g>
</svg>
</body></html>
